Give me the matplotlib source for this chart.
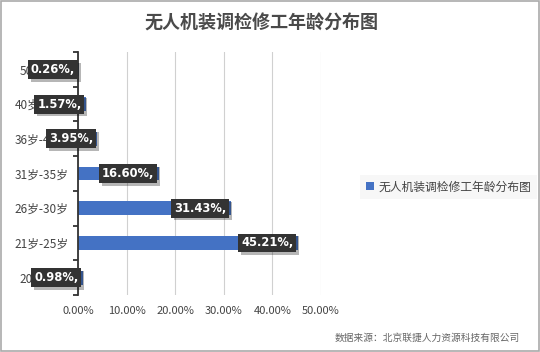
import matplotlib
matplotlib.use("Agg")
import matplotlib.pyplot as plt
import matplotlib.patheffects as pe
from matplotlib.patches import Rectangle

plt.rcParams['font.family'] = ['Noto Sans CJK SC', 'DejaVu Sans']

# data (bottom to top)
categories = ["20岁以下", "21岁-25岁", "26岁-30岁", "31岁-35岁", "36岁-40岁", "40岁-50岁", "50岁以上"]
values = [0.98, 45.21, 31.43, 16.60, 3.95, 1.57, 0.26]
xticks = [0, 10, 20, 30, 40, 50]
title = "无人机装调检修工年龄分布图"
source = "数据来源：北京联捷人力资源科技有限公司"

bar_color = "#4472C4"

fig = plt.figure(figsize=(5.4, 3.52), dpi=100)
ax = fig.add_axes([0.1444, 0.162, 0.45, 0.69])

ypos = list(range(len(categories)))
ax.barh(ypos, values, height=0.4, color=bar_color, label=title, zorder=2)

ax.set_xlim(0, 50)
ax.set_ylim(-0.5, len(categories) - 0.5)
ax.set_xticks(xticks)
ax.set_xticklabels([f"{t:.2f}%" for t in xticks], fontsize=8, color="#444444")
ax.tick_params(axis='x', length=0, pad=8)
ax.set_yticks(ypos)
ax.set_yticklabels(categories, fontsize=8.5, color="#444444")
ax.tick_params(axis='y', which='major', length=0, pad=7)
ax.set_yticks([i - 0.5 for i in range(len(categories) + 1)], minor=True)
ax.tick_params(axis='y', which='minor', length=3.5, width=1.3, color="#333333")

ax.grid(axis='x', color="#d0d0d0", linewidth=0.8, zorder=0)
for s in ['top', 'right', 'bottom']:
    ax.spines[s].set_visible(False)
ax.spines['left'].set_color("#333333")
ax.spines['left'].set_linewidth(1.3)
ax.spines['left'].set_zorder(3)

# data labels
for y, v in zip(ypos, values):
    t = ax.annotate(f"{v:.2f}%,", xy=(v, y), xytext=(-3, 0), textcoords='offset points',
                    ha='right', va='center', color='white', fontsize=8.3, fontweight='bold',
                    family=['DejaVu Sans'], annotation_clip=False, zorder=5,
                    bbox=dict(boxstyle='square,pad=0.25', fc='#333333', ec='none'))
    t.get_bbox_patch().set_path_effects([pe.SimplePatchShadow(offset=(2, -2), alpha=0.3), pe.Normal()])

leg = fig.legend(loc='center left', bbox_to_anchor=(0.655, 0.469), fontsize=8.5,
                 frameon=True, fancybox=False, handlelength=0.7, handleheight=0.7,
                 handletextpad=0.4, borderpad=0.5)
leg.get_frame().set_facecolor("#f6f6f6")
leg.get_frame().set_edgecolor("none")
for txt in leg.get_texts():
    txt.set_color("#444444")

fig.text(0.485, 0.935, title, ha='center', va='center', fontsize=13,
         fontweight='bold', color="#4a4a4a")
fig.text(0.963, 0.04, source, ha='right', va='center', fontsize=7, color="#666666")

fig.patches.append(Rectangle((0.001, 0.002), 0.997, 0.995, transform=fig.transFigure,
                             fill=False, ec="#aaaaaa", lw=1.2))

fig.savefig("out.png", dpi=100)
